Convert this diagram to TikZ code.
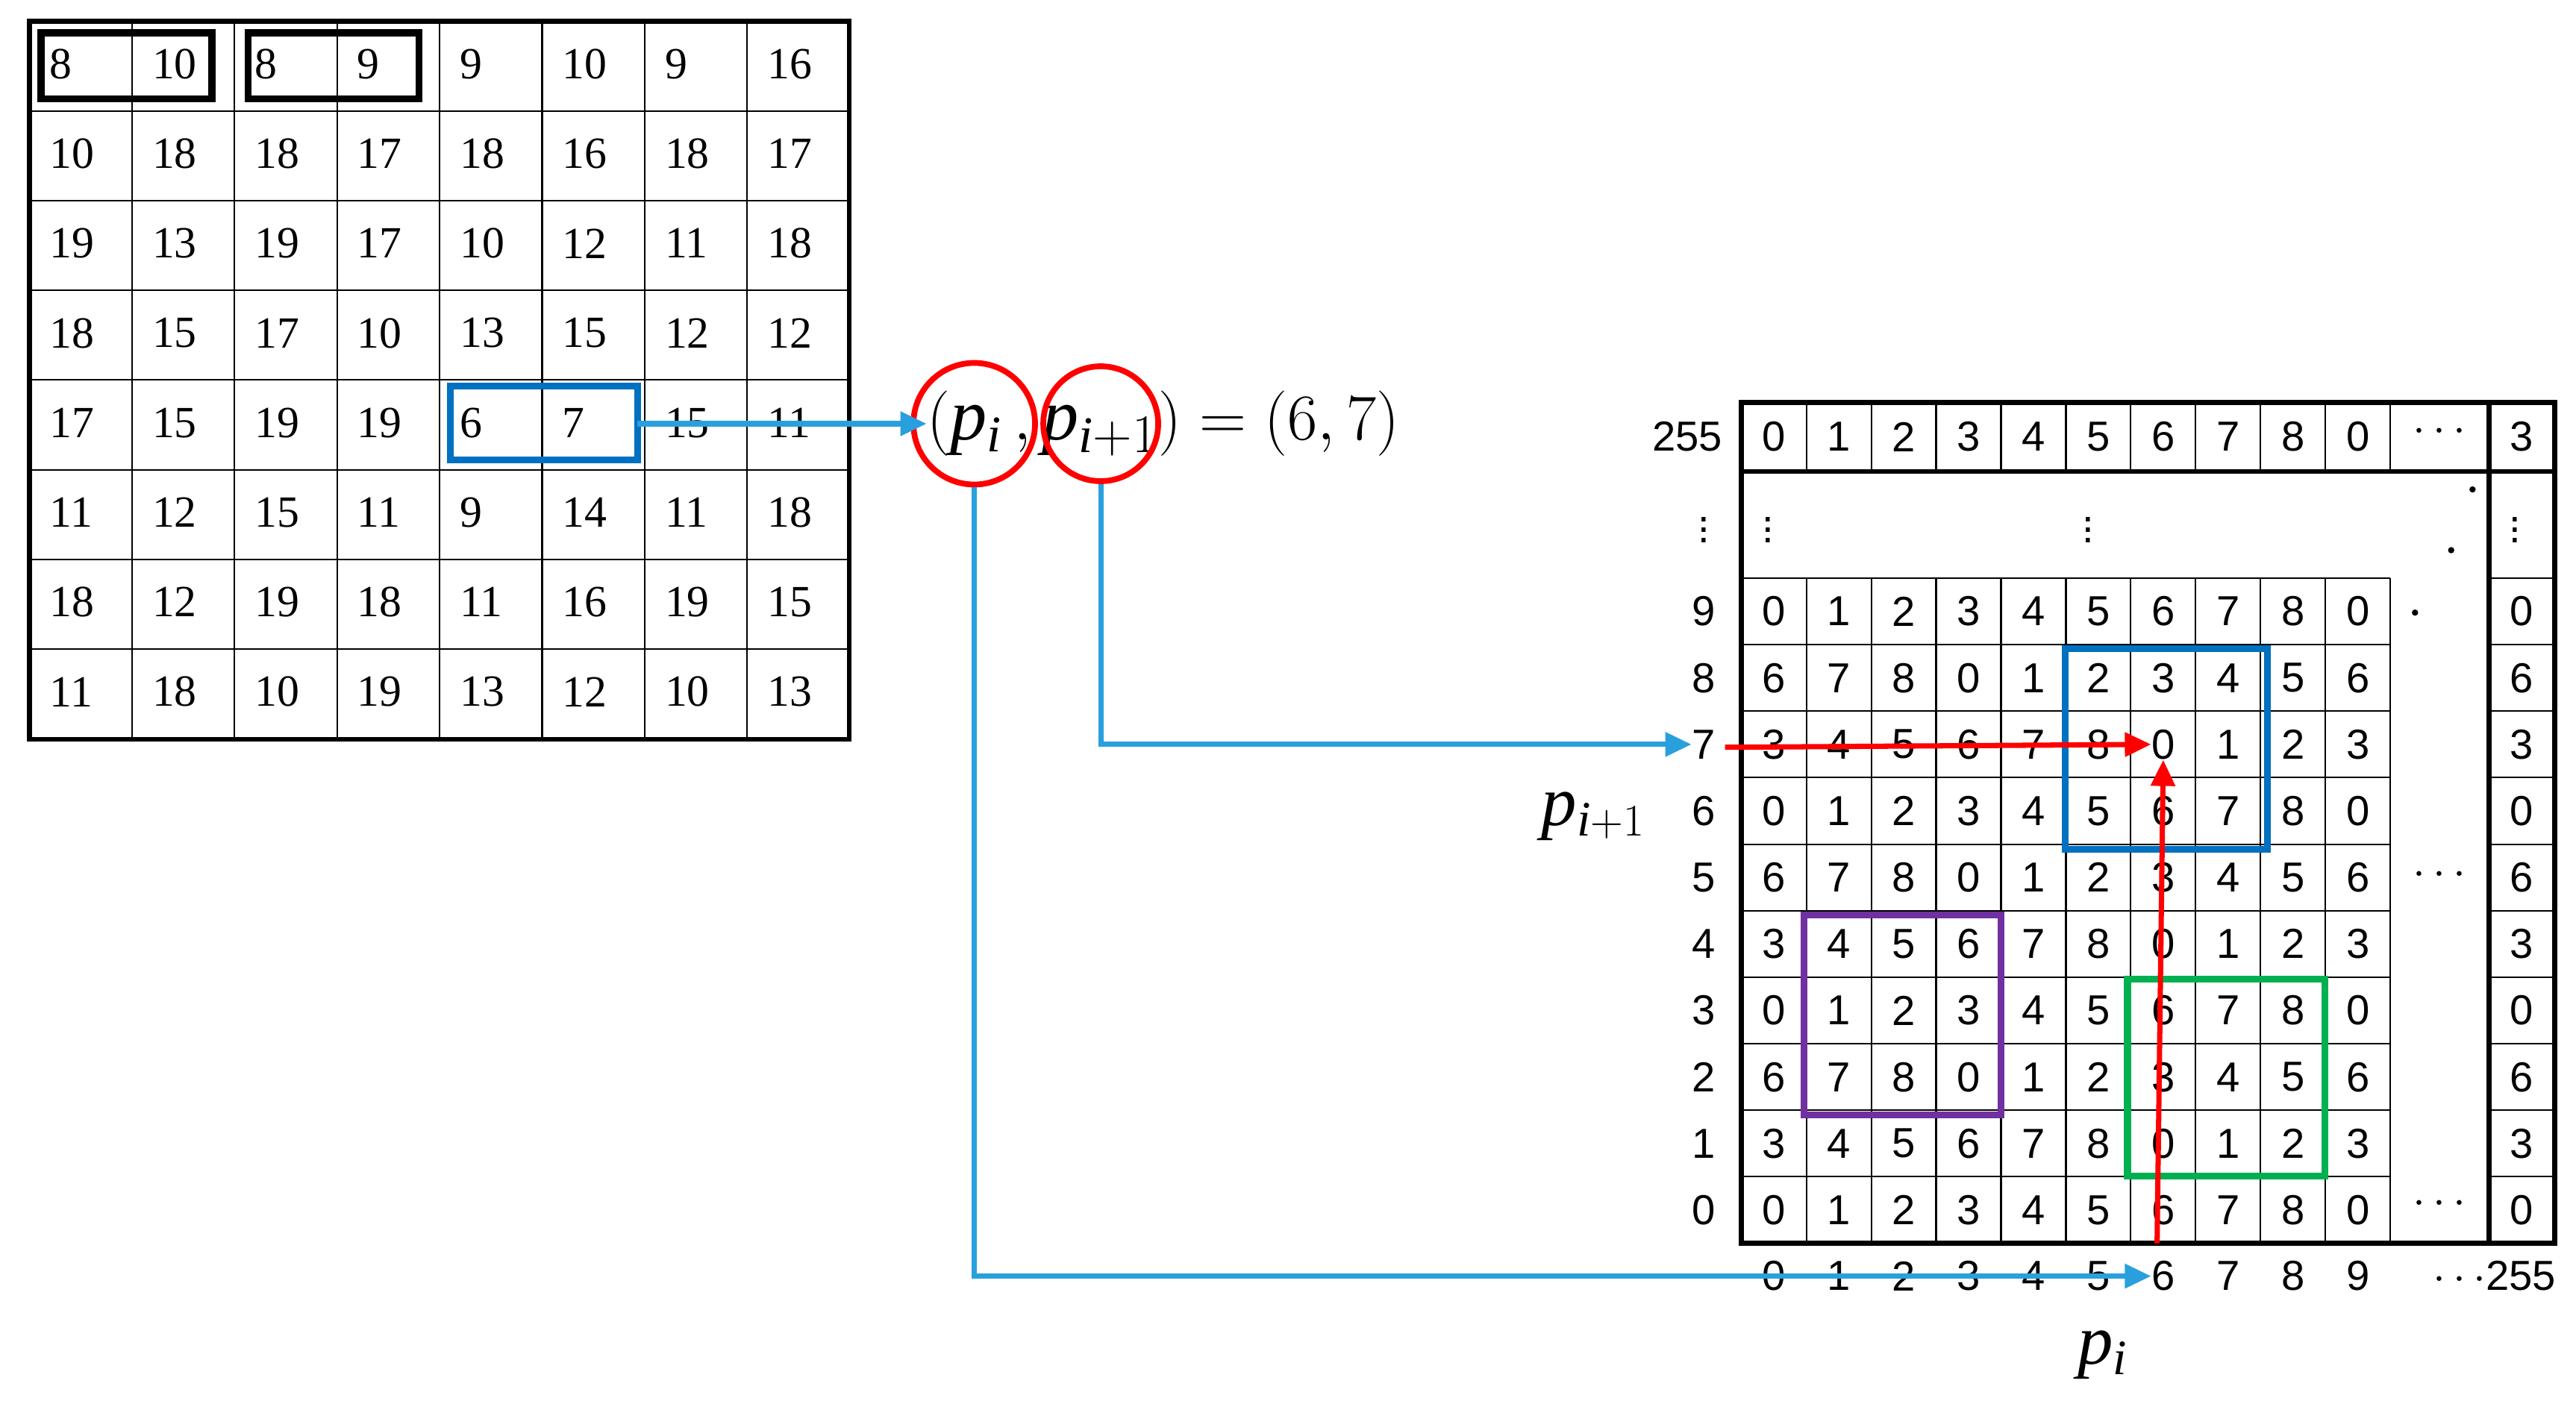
\documentclass[tikz,border=0pt]{standalone}
\usepackage{fontspec}
\setmainfont{Liberation Serif}
\newfontfamily\tabsans{Liberation Sans}
\usepackage{tikz}
\usetikzlibrary{arrows.meta}
\definecolor{boxblue}{HTML}{0070C0}
\definecolor{linkblue}{HTML}{29A0DD}
\definecolor{boxpurple}{HTML}{7030A0}
\definecolor{boxgreen}{HTML}{00B050}
\begin{document}
\begin{tikzpicture}[
    x=0.022016cm, y=-0.022016cm,
    thinline/.style={line width=0.6pt},
    thickline/.style={line width=1.8pt},
    lcell/.style={anchor=west, inner sep=0pt, font=\fontsize{17}{17}\selectfont},
    rcell/.style={inner sep=0pt, font=\tabsans\fontsize{16}{16}\selectfont},
    frame/.style={line width=2.6pt},
    link/.style={line width=2pt, linkblue, -{Triangle[length=10pt,width=9pt]}},
    redlink/.style={line width=2pt, red, -{Triangle[length=10pt,width=9pt]}},
    ring/.style={circle, draw=red, line width=2.2pt, inner sep=0pt}
]
\useasboundingbox (0,0) rectangle (1568,853);

% Left block
\foreach \k in {1,...,7} {
  \draw[thinline] ({18+62.4*\k},13) -- ({18+62.4*\k},450);
  \draw[thinline] (18,{13+54.6*\k}) -- (517,{13+54.6*\k});
}
\draw[thickline] (18,13) rectangle (517,450);
\foreach \row [count=\r from 0] in {{8,10,8,9,9,10,9,16},{10,18,18,17,18,16,18,17},
    {19,13,19,17,10,12,11,18},{18,15,17,10,13,15,12,12},{17,15,19,19,6,7,15,11},
    {11,12,15,11,9,14,11,18},{18,12,19,18,11,16,19,15},{11,18,10,19,13,12,10,13}} {
  \foreach \v [count=\c from 0] in \row
    \node[lcell] (l-\c-\r) at ({18+62.4*\c+12},{13+54.6*\r+26}) {\v};
}
\draw[frame] (25,20) rectangle (129,60);
\draw[frame] (151,20) rectangle (255,60);
\draw[frame, boxblue] (274,235) rectangle (388,280);
\coordinate (pairE) at (388,258);

% Pair
\node[anchor=west, inner sep=0pt, font=\fontsize{28}{30}\selectfont] (formula) at (564,258)
  {$(\mathit{p}_{\mathit{i}}\,,\mathit{p}_{\mathit{i}+1}) = (6,7)$};
\node[ring, minimum size=1.63cm] (ci) at (593,258) {};
\node[ring, minimum size=1.54cm] (cii) at (670,258) {};
\draw[link] (pairE) -- (formula.west);

% Right table
\foreach \k in {1,...,10} {
  \draw[thinline] ({1060+39.5*\k},352) -- ({1060+39.5*\k},757);
  \draw[thinline] ({1060+39.5*\k},245) -- ({1060+39.5*\k},287);
}
\foreach \k in {1,...,9} {
  \draw[thinline] (1060,{757-40.5*\k}) -- (1455,{757-40.5*\k});
  \draw[thinline] (1515,{757-40.5*\k}) -- (1555,{757-40.5*\k});
}
\draw[thinline] (1060,352) -- (1455,352);
\draw[thinline] (1515,352) -- (1555,352);
\draw[thickline] (1060,287) -- (1555,287);
\draw[thickline] (1060,757) -- (1060,245) -- (1555,245) -- (1555,757) -- cycle;
\draw[thickline] (1515,245) -- (1515,757);
\foreach \r in {0,...,9} {
  \node[rcell] (rl\r) at (1037,{757-40.5*\r-20.25}) {\r};
  \pgfmathtruncatemacro{\w}{mod(3*\r,9)}
  \node[rcell] (e-\r) at (1535,{757-40.5*\r-20.25}) {\w};
  \foreach \c in {0,...,9} {
    \pgfmathtruncatemacro{\v}{mod(\c+3*\r,9)}
    \node[rcell] (c-\c-\r) at ({1060+39.5*\c+19.75},{757-40.5*\r-20.25}) {\v};
  }
}
\node[rcell] (rltop) at (1027,266) {255};
\foreach \c in {0,...,9} {
  \pgfmathtruncatemacro{\v}{mod(\c,9)}
  \node[rcell] (t-\c) at ({1060+39.5*\c+19.75},266) {\v};
  \node[rcell] (b\c) at ({1060+39.5*\c+19.75},777) {\c};
}
\node[rcell] (etop) at (1535,266) {3};
\node[rcell] at (1485,263) {$\cdots$};
\node[rcell] at (1485,533) {$\cdots$};
\node[rcell] at (1485,733) {$\cdots$};
\node[rcell, anchor=east] (b255) at (1556,777) {$\cdots$255};
\foreach \x in {1037,1076,1271,1531}
  \node[rcell] at (\x,318) {$\vdots$};
\fill (1505,298) circle (1.2pt) (1492,335) circle (1.2pt) (1470,373) circle (1.2pt);

% Boxes
\draw[frame, boxblue] (1257,395) rectangle (1380,517);
\draw[frame, boxpurple] (1098,557) rectangle (1218,679);
\draw[frame, boxgreen] (1295,596) rectangle (1415,716);

% Connectors
\draw[link] (ci.south) |- (b6.west);
\draw[link] (cii.south) |- (rl7.west);
\coordinate (hstart) at (1050,455);
\coordinate (vstart) at (1313,757);
\draw[redlink] (hstart) -- (c-6-7.west);
\draw[redlink] (vstart) -- (c-6-7.south);

% Axis names
\node[font=\fontsize{27}{27}\selectfont] (ylab) at (970,497) {$\mathit{p}_{\mathit{i}+1}$};
\node[font=\fontsize{27}{27}\selectfont] (xlab) at (1280,825) {$\mathit{p}_{\mathit{i}}$};
\end{tikzpicture}
\end{document}
